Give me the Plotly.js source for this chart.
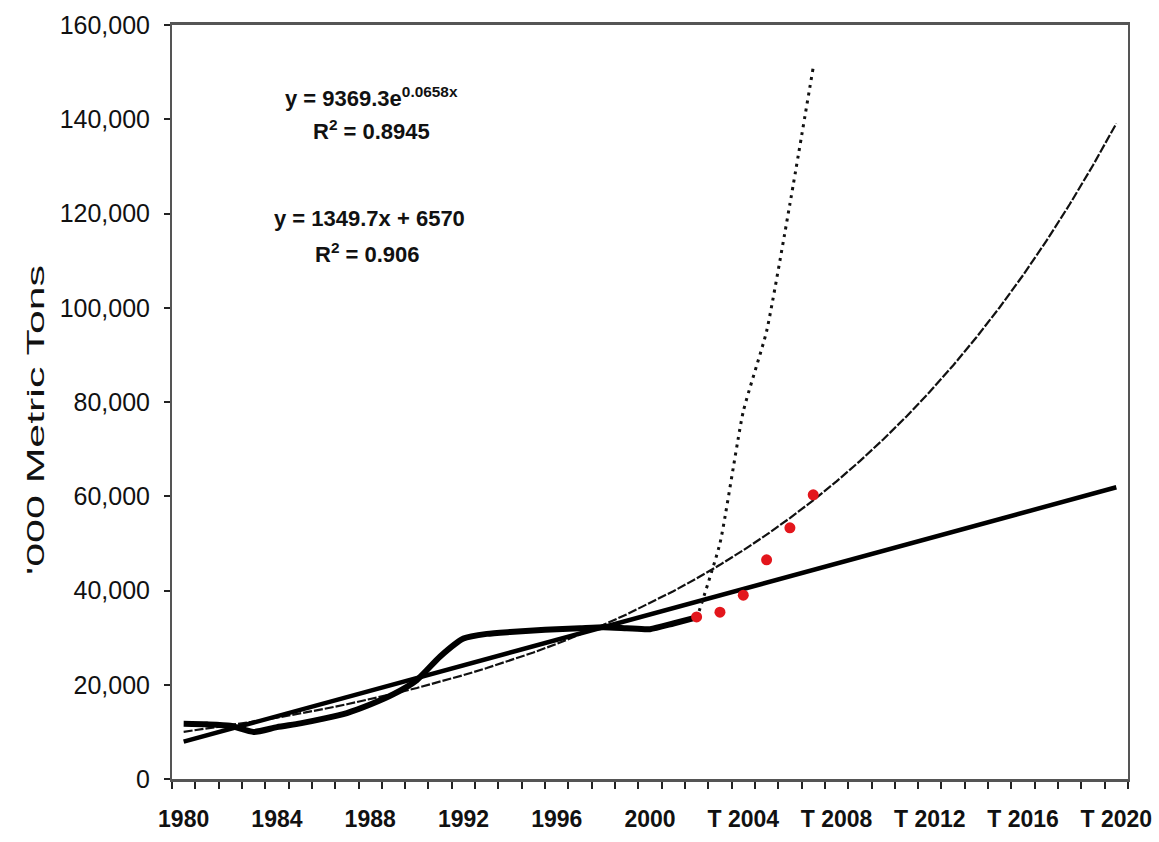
<!DOCTYPE html>
<html>
<head>
<meta charset="utf-8">
<script src="https://cdn.plot.ly/plotly-3.0.1.min.js"></script>
<style>
  html, body { margin: 0; padding: 0; background: #fff; }
  #chart { width: 1159px; height: 842px; }
</style>
</head>
<body>
<div id="chart"></div>
<script>
// Recorded consumption, '000 metric tons
const actualYears = [1980, 1981, 1982, 1983, 1984, 1985, 1986, 1987, 1988, 1989, 1990, 1991,
                     1992, 1993, 1994, 1995, 1996, 1997, 1998, 1999, 2000, 2001, 2002];
const actualTons  = [11700, 11600, 11300, 10000, 11000, 11800, 12800, 14000, 15800, 18000, 21000, 26000,
                     29800, 30800, 31200, 31500, 31800, 32000, 32200, 32000, 31800, 33000, 34300];

// Recent estimates (red points)
const estimateYears = [2002, 2003, 2004, 2005, 2006, 2007];
const estimateTons  = [34400, 35400, 39000, 46500, 53300, 60300];

// Steep projection (dotted)
const steepYears = [2002, 2003, 2004, 2005, 2006, 2007];
const steepTons  = [34000, 50000, 78000, 95000, 122000, 151000];

// Years covered by the fitted trend lines (x = 1 for 1980)
const trendYears = [1980, 1981, 1982, 1983, 1984, 1985, 1986, 1987, 1988, 1989, 1990,
                    1991, 1992, 1993, 1994, 1995, 1996, 1997, 1998, 1999, 2000,
                    2001, 2002, 2003, 2004, 2005, 2006, 2007, 2008, 2009, 2010,
                    2011, 2012, 2013, 2014, 2015, 2016, 2017, 2018, 2019, 2020];

// Fitted coefficients
const expA = 9369.3, expB = 0.0658, expR2 = '0.8945';
const linSlope = 1349.7, linIntercept = 6570, linR2 = '0.906';

// Axis labels
const tickYears  = [1980, 1984, 1988, 1992, 1996, 2000, 2004, 2008, 2012, 2016, 2020];
const tickLabels = ['1980', '1984', '1988', '1992', '1996', '2000', 'T 2004', 'T 2008', 'T 2012', 'T 2016', 'T 2020'];
const yTicks     = [0, 20000, 40000, 60000, 80000, 100000, 120000, 140000, 160000];

const expTrend = trendYears.map(yr => expA * Math.exp(expB * (yr - 1979)));
const linTrend = trendYears.map(yr => linSlope * (yr - 1979) + linIntercept);

const data = [
  { x: trendYears, y: expTrend, type: 'scatter', mode: 'lines',
    line: { color: '#111', width: 2.2, dash: '9px,2px' }, hoverinfo: 'skip' },
  { x: trendYears, y: linTrend, type: 'scatter', mode: 'lines',
    line: { color: '#000', width: 4.5 }, hoverinfo: 'skip' },
  { x: actualYears, y: actualTons, type: 'scatter', mode: 'lines',
    line: { color: '#000', width: 6, shape: 'spline', smoothing: 0.6 }, hoverinfo: 'skip' },
  { x: steepYears, y: steepTons, type: 'scatter', mode: 'lines',
    line: { color: '#111', width: 3, dash: '3px,5px', shape: 'spline', smoothing: 0.5 }, hoverinfo: 'skip' },
  { x: estimateYears, y: estimateTons, type: 'scatter', mode: 'markers',
    marker: { color: '#e3161c', size: 11 }, hoverinfo: 'skip' }
];

const sans = 'Liberation Sans, Arial, sans-serif';
const labelFont = { family: sans, size: 22, weight: 'bold', color: '#111' };

const layout = {
  width: 1159, height: 842,
  margin: { l: 172, r: 31, t: 25, b: 63 },
  paper_bgcolor: '#fff', plot_bgcolor: '#fff',
  showlegend: false,
  xaxis: {
    range: [1979.5, 2020.5],
    tickmode: 'array', tickvals: tickYears, ticktext: tickLabels,
    ticks: '', ticklabelstandoff: 17,
    tickfont: { family: sans, size: 23, weight: 'bold', color: '#111' },
    showline: true, linecolor: '#555', linewidth: 3, mirror: true,
    showgrid: false, zeroline: false,
    minor: { tickmode: 'linear', tick0: 1979.5, dtick: 1, ticks: 'outside',
             ticklen: 7, tickwidth: 2, tickcolor: '#222', showgrid: false }
  },
  yaxis: {
    range: [0, 160000],
    tickmode: 'array', tickvals: yTicks, tickformat: ',d',
    ticks: 'outside', ticklen: 6, tickwidth: 2, tickcolor: '#222',
    ticklabelstandoff: 9,
    tickfont: { family: sans, size: 25, color: '#111' },
    showline: true, linecolor: '#555', linewidth: 2, mirror: true,
    showgrid: false, zeroline: false,
    title: { text: "'000 Metric Tons", standoff: 8,
             font: { family: sans, size: 24, color: '#111' } }
  },
  annotations: [
    { xref: 'paper', yref: 'paper', x: 0.209, y: 0.9045, xanchor: 'center', yanchor: 'middle',
      showarrow: false, text: 'y = ' + expA + 'e<sup>' + expB + 'x</sup>', font: labelFont },
    { xref: 'paper', yref: 'paper', x: 0.209, y: 0.861, xanchor: 'center', yanchor: 'middle',
      showarrow: false, text: 'R<sup>2</sup> = ' + expR2, font: labelFont },
    { xref: 'paper', yref: 'paper', x: 0.207, y: 0.744, xanchor: 'center', yanchor: 'middle',
      showarrow: false, text: 'y = ' + linSlope + 'x + ' + linIntercept, font: labelFont },
    { xref: 'paper', yref: 'paper', x: 0.205, y: 0.698, xanchor: 'center', yanchor: 'middle',
      showarrow: false, text: 'R<sup>2</sup> = ' + linR2, font: labelFont }
  ]
};

Plotly.newPlot('chart', data, layout, { staticPlot: true, displayModeBar: false }).then(gd => {
  // stretch the axis title along its length and centre it a little lower
  const t = gd.querySelector('.ytitle');
  if (t) {
    t.setAttribute('textLength', '310');
    t.setAttribute('lengthAdjust', 'spacingAndGlyphs');
    t.setAttribute('transform', (t.getAttribute('transform') || '') + ' translate(-18,0)');
  }
});
</script>
</body>
</html>
